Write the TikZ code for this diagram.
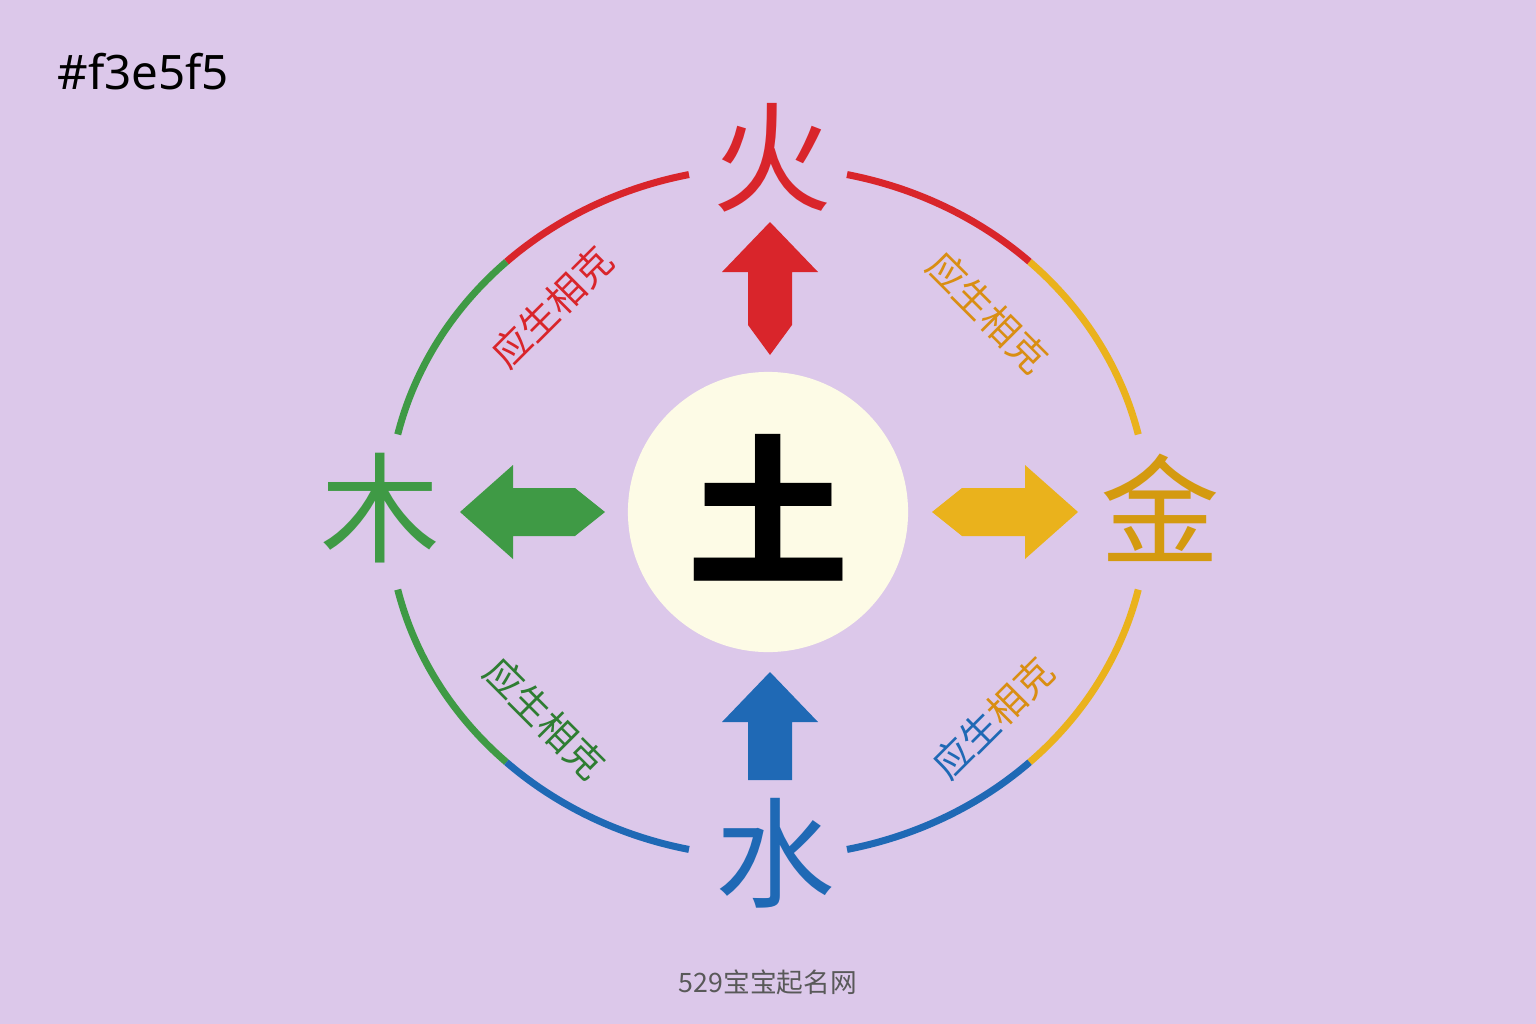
\documentclass[tikz,border=0pt]{standalone}
\usepackage{fontspec}
\setmainfont{Noto Sans}
\newfontfamily\cjk{Noto Sans CJK SC}
\definecolor{bg}{HTML}{DCC8EA}
\definecolor{cream}{HTML}{FDFBE6}
\definecolor{fire}{HTML}{D9252B}
\definecolor{wood}{HTML}{3F9A45}
\definecolor{metal}{HTML}{EAB21C}
\definecolor{metaltxt}{HTML}{D49A10}
\definecolor{water}{HTML}{1F69B5}
\definecolor{lblgold}{HTML}{D98E12}
\definecolor{lblgreen}{HTML}{2E7D32}
\begin{document}
\begin{tikzpicture}[x=0.01cm,y=-0.01cm,
  ring/.style={line width=0.07cm},
  elem/.style={font=\cjk\fontsize{34}{36}\selectfont},
  lbl/.style={font=\cjk\fontsize{10.8}{12}\selectfont}]
\fill[bg] (0,0) rectangle (1536,1024);
\useasboundingbox (0,0) rectangle (1536,1024);
\node[anchor=west,font=\fontsize{13.5}{15}\selectfont] (hex) at (45,72) {\#f3e5f5};
\node[circle,fill=cream,minimum size=2.8cm,inner sep=0] (earth) at (768,512) {};
\node[font=\cjk\bfseries\fontsize{46}{48}\selectfont] (tu) at (768,508) {土};
\node[elem,text=fire] (huo) at (772,158) {火};
\node[elem,text=wood] (mu) at (380,508) {木};
\node[elem,text=metaltxt] (jin) at (1160,508) {金};
\node[elem,text=water] (shui) at (775,853) {水};
% arcs
\def\ar#1#2#3{\draw[ring,#3] plot[domain=#1:#2,samples=40] ({768+380*cos(\x)},{512-345*sin(\x)});}
\ar{102}{133.5}{fire}\ar{133.5}{167}{wood}
\ar{193}{226.5}{wood}\ar{226.5}{258}{water}
\ar{78}{46.5}{fire}\ar{46.5}{13}{metal}
\ar{347}{313.5}{metal}\ar{313.5}{282}{water}
% arrows
\fill[fire] (770,222)--(818,272)--(792,272)--(792,325)--(770,355)--(748,325)--(748,272)--(722,272)--cycle;
\fill[wood] (460,512)--(513,465)--(513,488)--(575,488)--(605,512)--(575,536)--(513,536)--(513,559)--cycle;
\fill[metal] (1078,512)--(1025,465)--(1025,488)--(962,488)--(932,512)--(962,536)--(1025,536)--(1025,559)--cycle;
\fill[water] (770,672)--(818,722)--(792,722)--(792,780)--(748,780)--(748,722)--(722,722)--cycle;
% labels
\node[lbl,text=fire,rotate=45] (l1) at (552,307) {应生相克};
\node[lbl,text=lblgold,rotate=-45] (l2) at (988,312) {应生相克};
\node[lbl,text=lblgreen,rotate=-45] (l3) at (545,718) {应生相克};
\node[lbl,rotate=45] (l4) at (993,718) {\textcolor{water}{应生}\textcolor{lblgold}{相克}};
\node[font=\cjk\fontsize{7.6}{9}\selectfont,text=black!65] (foot) at (768,982) {529宝宝起名网};
\end{tikzpicture}
\end{document}
